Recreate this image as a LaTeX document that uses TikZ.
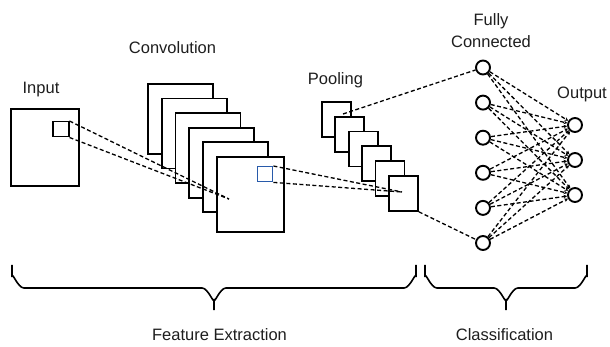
\documentclass[tikz,border=0pt]{standalone}
\usepackage{fontspec}
\setmainfont{Liberation Sans}
\usetikzlibrary{arrows.meta}
\definecolor{txt}{RGB}{30,30,30}
\definecolor{blueq}{RGB}{40,90,170}
\begin{document}
\begin{tikzpicture}[x=1pt,y=-1pt,
  lbl/.style={font=\fontsize{16.5}{18}\selectfont, text=txt, anchor=base, inner sep=0pt},
  sq/.style={draw=black, fill=white, line width=1.8pt, inner sep=0pt, anchor=north west, rectangle},
  fmap/.style={sq, minimum width=65pt, minimum height=70pt},
  pmap/.style={sq, minimum width=29pt, minimum height=35pt},
  neuron/.style={circle, draw=black, fill=white, line width=1.9pt, minimum size=14pt, inner sep=0pt},
  link/.style={draw=black, dash pattern=on 4pt off 2.5pt, line width=1.3pt},
  wlink/.style={link, -{Stealth[length=3.5pt,width=3.5pt]}},
  bracepath/.style={draw=black, line width=1.6pt}
]
\useasboundingbox (0,0) rectangle (610,347);

% labels
\node[lbl] (tin) at (41,94) {Input};
\node[lbl] (tconv) at (172.5,54) {Convolution};
\node[lbl] (tpool) at (335.5,85) {Pooling};
\node[lbl] (tfully) at (491,26) {Fully};
\node[lbl] (tconn) at (491,48) {Connected};
\node[lbl] (tout) at (582,99) {Output};
\node[lbl] (tfe) at (219.5,340) {Feature Extraction};
\node[lbl] (tcl) at (504.5,340) {Classification};

% input
\node[sq, minimum width=68pt, minimum height=77pt] (inp) at (10,108) {};
\node[sq, line width=1.5pt, minimum width=16pt, minimum height=15pt] (insq) at (52,121) {};

% convolution maps
\foreach \i in {0,...,4}{
  \node[fmap] (c\i) at ({147+13.8*\i},{83+14.6*\i}) {};
}
\node[fmap, minimum width=67pt, minimum height=75pt] (c5) at (216,156) {};
\node[sq, draw=blueq, line width=1.4pt, minimum width=15pt, minimum height=15pt] (bsq) at (257,166) {};

% pooling maps
\foreach \i in {0,...,5}{
  \node[pmap] (p\i) at ({321+13.4*\i},{101+14.8*\i}) {};
}

% neurons
\foreach \i in {1,...,6}{
  \node[neuron] (f\i) at (483,{67.5+35.1*(\i-1)}) {};
}
\foreach \j in {1,...,3}{
  \node[neuron] (o\j) at (575,{125+35*(\j-1)}) {};
}

% focus points
\coordinate (cfoc) at (229,199);
\coordinate (pfoc) at (402,192);
\coordinate (pstart) at (343,114);

% dashed connectors
\draw[link] (insq.north east) -- (cfoc);
\draw[link] (insq.south east) -- (cfoc);
\draw[link] (bsq.north east) -- (pfoc);
\draw[link] (bsq.south east) -- (pfoc);
\draw[link] (pstart) -- (f1);
\draw[link] (p5.south east) -- (f6);
\foreach \i in {1,...,6}{
  \foreach \j in {1,...,3}{
    \draw[wlink] (f\i) -- (o\j);
  }
}

% braces
\draw[bracepath] (12,265) -- (12,277) to[out=90,in=180] (24,288)
  -- (202,288) to[out=0,in=-90] (214,299) -- (214,310);
\draw[bracepath] (416,265) -- (416,277) to[out=90,in=0] (404,288)
  -- (226,288) to[out=180,in=-90] (214,299);
\draw[bracepath] (425,265) -- (425,277) to[out=90,in=180] (437,288)
  -- (494,288) to[out=0,in=-90] (506,299) -- (506,310);
\draw[bracepath] (587,265) -- (587,277) to[out=90,in=0] (575,288)
  -- (518,288) to[out=180,in=-90] (506,299);
\end{tikzpicture}
\end{document}
